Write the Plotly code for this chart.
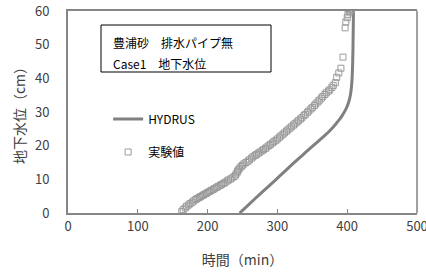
import plotly.graph_objects as go

# HYDRUS simulation (time in min, water level in cm)
hydrus_t = [246, 260, 275, 290, 305, 320, 335, 348, 358, 366, 373, 379, 384, 389, 393, 397, 400, 402.5, 404.5, 406, 407, 407.7, 408.2, 408.6, 409]
hydrus_h = [0, 2.7, 5.6, 8.4, 11.3, 14.2, 17.0, 19.4, 21.2, 22.7, 24.0, 25.3, 26.5, 27.8, 29.0, 30.4, 31.7, 33.2, 35.0, 37.2, 40.0, 43.5, 48.0, 54.0, 60.0]

# Experimental values
exp_t = [163, 165, 168, 170, 173, 175, 178, 180, 183, 185, 188, 190, 193, 195, 198, 200, 203, 205,
         208, 210, 213, 215, 218, 220, 223, 225, 228, 230, 233, 235, 238, 240, 242, 243, 244, 246,
         248, 250, 252, 255, 258, 260, 263, 265, 268, 270, 273, 275, 278, 280, 283, 285, 288, 290,
         293, 295, 298, 300, 303, 305, 308, 310, 313, 315, 318, 320, 323, 325, 328, 330, 333, 335,
         338, 340, 343, 345, 348, 350, 353, 355, 358, 360, 363, 365, 368, 370, 373, 375, 378, 380,
         383, 385, 388, 391, 394, 397, 398, 400, 401, 403, 404, 405, 406]
exp_h = [0.4, 1.0, 1.5, 2.0, 2.4, 2.8, 3.2, 3.6, 4.0, 4.3, 4.6, 4.9, 5.2, 5.5, 5.8, 6.1, 6.4, 6.7,
         7.0, 7.3, 7.6, 7.9, 8.2, 8.5, 8.8, 9.1, 9.5, 9.8, 10.1, 10.4, 10.8, 11.3, 11.9, 12.4, 12.8, 13.3,
         13.8, 14.2, 14.6, 15.0, 15.4, 15.8, 16.3, 16.7, 17.1, 17.4, 17.8, 18.1, 18.5, 18.8, 19.2, 19.6, 20.0, 20.4,
         20.8, 21.2, 21.6, 22.0, 22.5, 22.9, 23.4, 23.8, 24.3, 24.7, 25.2, 25.6, 26.1, 26.5, 27.0, 27.4, 27.9, 28.3,
         28.9, 29.3, 29.9, 30.3, 30.9, 31.3, 31.9, 32.4, 33.0, 33.5, 34.1, 34.6, 35.2, 35.7, 36.2, 36.6, 37.3, 37.9,
         38.7, 40.3, 41.6, 43.0, 46.3, 55.0, 56.7, 58.0, 59.0, 59.7, 60.0, 60.3, 60.5]

x_ticks = [0, 100, 200, 300, 400, 500]
y_ticks = [0, 10, 20, 30, 40, 50, 60]

FONT = "Noto Sans CJK JP"
GRAY = "#868686"
TXT = "#404040"

fig = go.Figure()
fig.add_trace(go.Scatter(
    x=hydrus_t, y=hydrus_h, mode="lines", name="HYDRUS",
    line=dict(color="#808080", width=3, shape="spline", smoothing=0.3),
    legend="legend",
))
fig.add_trace(go.Scatter(
    x=exp_t, y=exp_h, mode="markers", name="実験値",
    marker=dict(symbol="square-open", size=6, color="#9a9a9a", line=dict(width=1, color="#9a9a9a")),
    legend="legend2",
))

fig.update_layout(
    width=426, height=273,
    margin=dict(l=68, r=9, t=11, b=60),
    paper_bgcolor="white", plot_bgcolor="white",
    font=dict(family=FONT, size=12, color=TXT),
    legend=dict(x=0.115, y=0.465, xanchor="left", yanchor="middle",
                bgcolor="rgba(0,0,0,0)", font=dict(size=12, color="#000000")),
    legend2=dict(x=0.115, y=0.302, xanchor="left", yanchor="middle",
                 bgcolor="rgba(0,0,0,0)", font=dict(size=12, color="#000000")),
    showlegend=True,
)

fig.update_xaxes(
    range=[0, 500], tickvals=x_ticks, ticktext=[str(v) for v in x_ticks],
    showgrid=False, zeroline=False,
    showline=True, linecolor=GRAY, linewidth=2, mirror=True,
    ticks="inside", ticklen=4, tickcolor=GRAY, tickwidth=1,
    tickfont=dict(size=13, color=TXT), ticklabeloverflow="allow",
    title=dict(text="時間（min）", font=dict(size=14, color=TXT), standoff=22),
    automargin=False,
)
fig.update_yaxes(
    range=[0, 60], tickvals=y_ticks, ticktext=[str(v) for v in y_ticks],
    showgrid=False, zeroline=False,
    showline=True, linecolor=GRAY, linewidth=2,
    ticks="", ticklabelstandoff=14,
    tickfont=dict(size=13, color=TXT),
    title=dict(text="地下水位（cm）", font=dict(size=14, color=TXT), standoff=6),
    automargin=False,
)

# right border of plot area
fig.add_shape(type="line", xref="paper", yref="paper", x0=1, x1=1, y0=0, y1=1,
              line=dict(color="#404040", width=1))

# text box
fig.add_shape(type="rect", xref="paper", yref="paper",
              x0=(101 - 68) / 349, x1=(271 - 68) / 349,
              y0=(213 - 72) / 202, y1=(213 - 25) / 202,
              line=dict(color="#000000", width=1), fillcolor="white")
fig.add_annotation(xref="paper", yref="paper", x=(111 - 68) / 349, y=(213 - 42) / 202,
                   xanchor="left", yanchor="middle", showarrow=False,
                   text="豊浦砂　排水パイプ無", font=dict(size=12, color="#000000"))
fig.add_annotation(xref="paper", yref="paper", x=(111 - 68) / 349, y=(213 - 63) / 202,
                   xanchor="left", yanchor="middle", showarrow=False,
                   text="Case1　地下水位", font=dict(size=12, color="#000000"))

fig.write_html("out.html", config={"displayModeBar": False},
               post_script="document.body.style.margin='0';")
